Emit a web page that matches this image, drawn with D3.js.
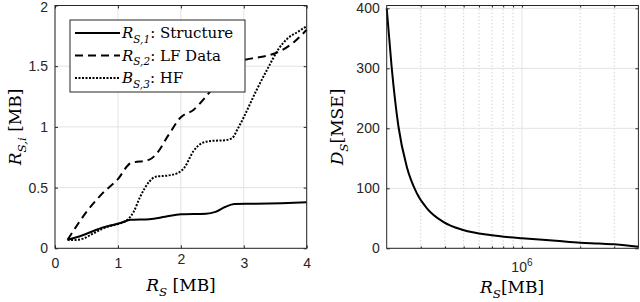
<!DOCTYPE html>
<html>
<head>
<meta charset="utf-8">
<script src="https://cdn.jsdelivr.net/npm/d3@7"></script>
<style>
  body { margin: 0; background: #fff; }
  svg { display: block; }
  .tick text { font-family: "Liberation Sans", Arial, sans-serif; font-size: 14px; fill: #262626; }
  .math { font-family: "DejaVu Serif", "Liberation Serif", serif; fill: #000; }
</style>
</head>
<body>
<div id="chart"></div>
<script>
// left panel data: R_S [MB] vs R_S,i [MB]
var structureData = [[0.2,0.07],[0.3,0.085],[0.45,0.11],[0.6,0.14],[0.75,0.17],[0.9,0.19],[1.05,0.21],[1.2,0.235],[1.5,0.24],[1.75,0.26],[2.0,0.28],[2.4,0.285],[2.55,0.3],[2.7,0.34],[2.85,0.365],[3.2,0.367],[3.6,0.372],[4.0,0.38]]
var lfData = [[0.2,0.07],[0.3,0.15],[0.5,0.3],[0.75,0.45],[1.0,0.57],[1.2,0.7],[1.5,0.73],[1.6,0.77],[1.8,0.93],[2.0,1.08],[2.2,1.14],[2.4,1.25],[2.6,1.38],[2.8,1.5],[3.0,1.55],[3.2,1.57],[3.4,1.59],[3.6,1.63],[3.8,1.7],[4.0,1.8]]
var hfData = [[0.2,0.07],[0.3,0.068],[0.45,0.08],[0.6,0.12],[0.75,0.16],[0.85,0.18],[1.0,0.2],[1.15,0.235],[1.25,0.3],[1.35,0.42],[1.5,0.55],[1.6,0.59],[1.8,0.6],[1.95,0.62],[2.05,0.66],[2.2,0.8],[2.35,0.87],[2.5,0.885],[2.7,0.89],[2.82,0.91],[2.9,0.98],[3.0,1.08],[3.2,1.3],[3.4,1.5],[3.55,1.64],[3.7,1.73],[3.85,1.78],[4.0,1.83]]
var leftXTicks = [0, 1, 2, 3, 4]
var leftYTicks = [0, 0.5, 1, 1.5, 2]

// right panel data: R_S [MB] (log) vs D_S [MSE]
var rateData = [2e5, 2.12e5, 2.3e5, 2.54e5, 2.86e5, 3.22e5, 3.92e5, 4.97e5, 6.83e5, 8.66e5, 1e6, 1.5e6, 2e6, 2.5e6, 3e6, 3.5e6, 4e6]
var distData = [400, 303, 203, 136, 92, 67, 44, 30.5, 22, 18.3, 16.7, 12.5, 9.4, 8, 6.6, 4.6, 2.5]
var rightYTicks = [0, 100, 200, 300, 400]
var rightMinor = [3e5, 4e5, 5e5, 6e5, 7e5, 8e5, 9e5, 2e6, 3e6]

const svgWidth = 640
const svgHeight = 302
const boxColor = '#262626'
const gridColor = '#e3e3e3'

var svg = d3.select('#chart').append('svg')
    .attr('width', svgWidth)
    .attr('height', svgHeight)

// writes latex-ish text: parts = [[text, italic, sub]]
function mathText(g, x, y, size, parts, anchor) {
    var t = g.append('text').attr('class', 'math')
        .attr('x', x).attr('y', y)
        .attr('font-size', size)
        .attr('text-anchor', anchor || 'start')
    var down = false
    parts.forEach(p => {
        var s = t.append('tspan').text(p[0])
        if (p[1]) s.attr('font-style', 'italic')
        if (p[2] && !down) { s.attr('dy', size * 0.3).attr('font-size', size * 0.7); down = true }
        else if (p[2]) { s.attr('font-size', size * 0.7) }
        else if (down) { s.attr('dy', -size * 0.3); down = false }
    })
    return t
}

function drawBox(g, w, h) {
    g.append('rect').attr('width', w).attr('height', h)
        .attr('fill', 'none').attr('stroke', boxColor).attr('stroke-width', 1)
}

// ---------- left panel ----------
const L = { left: 55, top: 5.5, width: 251.7, height: 242.8 }
var gl = svg.append('g').attr('transform', `translate(${L.left}, ${L.top})`)

const xl = d3.scaleLinear().domain([0, 4]).range([0, L.width])
const yl = d3.scaleLinear().domain([0, 2]).range([L.height, 0])

gl.append('g').selectAll('line').data(leftXTicks).join('line')
    .attr('x1', d => xl(d)).attr('x2', d => xl(d))
    .attr('y1', 0).attr('y2', L.height)
    .attr('stroke', gridColor)
gl.append('g').selectAll('line').data(leftYTicks).join('line')
    .attr('x1', 0).attr('x2', L.width)
    .attr('y1', d => yl(d)).attr('y2', d => yl(d))
    .attr('stroke', gridColor)

var line = d3.line().x(d => xl(d[0])).y(d => yl(d[1])).curve(d3.curveMonotoneX)

gl.append('path').datum(structureData).attr('d', line)
    .attr('fill', 'none').attr('stroke', '#000').attr('stroke-width', 2)
gl.append('path').datum(lfData).attr('d', line)
    .attr('fill', 'none').attr('stroke', '#000').attr('stroke-width', 2)
    .attr('stroke-dasharray', '8,5')
gl.append('path').datum(hfData).attr('d', line)
    .attr('fill', 'none').attr('stroke', '#000').attr('stroke-width', 2)
    .attr('stroke-dasharray', '2,1.5')

// axes (ticks inside)
gl.append('g').attr('transform', `translate(0, ${L.height})`)
    .call(d3.axisBottom(xl).tickValues(leftXTicks).tickSize(-3).tickPadding(10).tickFormat(d3.format('')))
gl.append('g')
    .call(d3.axisLeft(yl).tickValues(leftYTicks).tickSize(-3).tickPadding(7).tickFormat(d3.format('')))
gl.append('g').call(d3.axisTop(xl).tickValues(leftXTicks).tickSize(-3).tickFormat(''))
gl.append('g').attr('transform', `translate(${L.width}, 0)`)
    .call(d3.axisRight(yl).tickValues(leftYTicks).tickSize(-3).tickFormat(''))
gl.selectAll('.domain').remove()
gl.selectAll('.tick line').attr('stroke', boxColor)
// keep the top label inside the page
gl.selectAll('.tick text').filter(d => d === 2).attr('dy', '0.42em')
drawBox(gl, L.width, L.height)

mathText(svg, 181, 291, 17, [['R', true], ['S', true, true], [' [MB]']], 'middle')
var yl_lab = svg.append('g').attr('transform', 'translate(21, 127) rotate(-90)')
mathText(yl_lab, 0, 0, 17, [['R', true], ['S,i', true, true], [' [MB]']], 'middle')

// legend
var leg = gl.append('g').attr('transform', 'translate(15, 14.5)')
leg.append('rect').attr('width', 175).attr('height', 72)
    .attr('fill', '#fff').attr('stroke', boxColor).attr('stroke-width', 1)
var legendItems = [
    { dash: null, parts: [['R', true], ['S,1', true, true], [': Structure']] },
    { dash: '8,5', parts: [['R', true], ['S,2', true, true], [': LF Data']] },
    { dash: '2,1.5', parts: [['B', true], ['S,3', true, true], [': HF']] }
]
legendItems.forEach((d, i) => {
    var yy = 13 + i * 22.5
    leg.append('line').attr('x1', 5).attr('x2', 50).attr('y1', yy).attr('y2', yy)
        .attr('stroke', '#000').attr('stroke-width', 2)
        .attr('stroke-dasharray', d.dash)
    mathText(leg, 52, yy + 5, 15, d.parts)
})

// ---------- right panel ----------
const R = { left: 386.7, top: 5.5, width: 251.7, height: 242.8 }
var gr = svg.append('g').attr('transform', `translate(${R.left}, ${R.top})`)

const xr = d3.scaleLog().domain([2e5, 4e6]).range([0, R.width])
const yr = d3.scaleLinear().domain([0, 404.7]).range([R.height, 0])

gr.append('g').selectAll('line').data(rightMinor).join('line')
    .attr('x1', d => xr(d)).attr('x2', d => xr(d))
    .attr('y1', 0).attr('y2', R.height)
    .attr('stroke', '#d4d4d4').attr('stroke-dasharray', '1.5,2')
gr.append('line').attr('x1', xr(1e6)).attr('x2', xr(1e6))
    .attr('y1', 0).attr('y2', R.height).attr('stroke', gridColor)
gr.append('g').selectAll('line').data(rightYTicks).join('line')
    .attr('x1', 0).attr('x2', R.width)
    .attr('y1', d => yr(d)).attr('y2', d => yr(d))
    .attr('stroke', gridColor)

var rdPoints = rateData.map((r, i) => [r, distData[i]])
gr.append('path').datum(rdPoints)
    .attr('d', d3.line().x(d => xr(d[0])).y(d => yr(d[1])).curve(d3.curveMonotoneX))
    .attr('fill', 'none').attr('stroke', '#000').attr('stroke-width', 2)

gr.append('g').attr('transform', `translate(0, ${R.height})`)
    .call(d3.axisBottom(xr).tickValues(rightMinor.concat([1e6])).tickSize(-2).tickFormat(''))
gr.append('g').call(d3.axisTop(xr).tickValues(rightMinor.concat([1e6])).tickSize(-2).tickFormat(''))
gr.append('g').call(d3.axisLeft(yr).tickValues(rightYTicks).tickSize(-3).tickPadding(7))
gr.append('g').attr('transform', `translate(${R.width}, 0)`)
    .call(d3.axisRight(yr).tickValues(rightYTicks).tickSize(-3).tickFormat(''))
gr.selectAll('.domain').remove()
gr.selectAll('.tick line').attr('stroke', boxColor)
drawBox(gr, R.width, R.height)

// 10^6 label
var expLab = gr.append('text').attr('x', xr(1e6)).attr('y', R.height + 24)
    .attr('text-anchor', 'middle')
    .attr('font-family', '"Liberation Sans", Arial, sans-serif')
    .attr('font-size', 14).attr('fill', '#262626')
expLab.append('tspan').text('10')
expLab.append('tspan').text('6').attr('dy', -6).attr('font-size', 10)

mathText(svg, 512, 293, 17, [['R', true], ['S', true, true], ['[MB]']], 'middle')
var yr_lab = svg.append('g').attr('transform', 'translate(343, 127) rotate(-90)')
mathText(yr_lab, 0, 0, 17, [['D', true], ['S', true, true], ['[MSE]']], 'middle')
</script>
</body>
</html>
